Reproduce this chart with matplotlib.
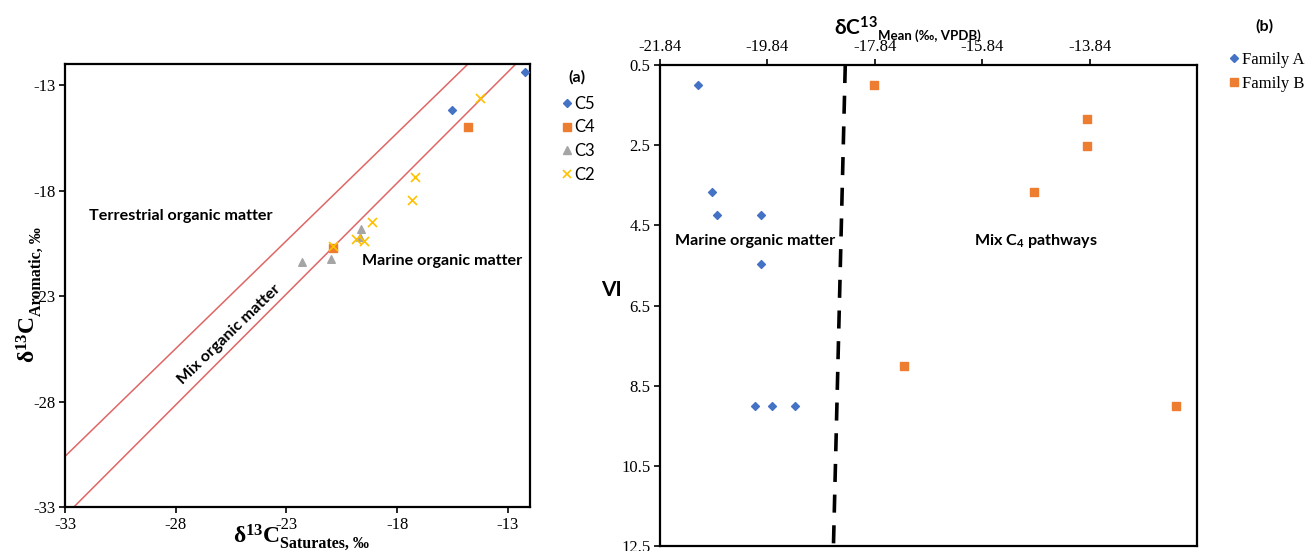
import matplotlib.pyplot as plt
from matplotlib.lines import Line2D
from matplotlib.transforms import IdentityTransform

plt.rcParams['mathtext.fontset'] = 'custom'
plt.rcParams['mathtext.rm'] = 'Liberation Serif'
plt.rcParams['mathtext.bf'] = 'Liberation Serif:bold'
plt.rcParams['mathtext.sf'] = 'Lato:bold'
plt.rcParams['mathtext.fallback'] = 'stixsans'

# ---- panel (a) data: d13C saturates vs d13C aromatics
c5_x = [-12.24, -15.52]
c5_y = [-12.37, -14.20]
c4_x = [-14.81, -20.90]
c4_y = [-14.99, -20.70]
c3_x = [-22.28, -21.00, -19.64, -19.68]
c3_y = [-21.37, -21.25, -19.84, -20.19]
c2_x = [-14.24, -17.21, -17.32, -19.13, -19.87, -19.49, -20.91]
c2_y = [-13.60, -17.37, -18.45, -19.48, -20.30, -20.38, -20.65]

# boundary lines (end points)
upper_x = [-33.0, -14.8]
upper_y = [-30.6, -12.0]
lower_x = [-32.6, -12.64]
lower_y = [-33.0, -12.0]

# ---- panel (b) data: d13C mean vs VI
fam_a_x = [-21.13, -20.87, -20.77, -19.95, -19.96, -20.08, -19.75, -19.32]
fam_a_y = [1.0, 3.66, 4.24, 4.24, 5.47, 9.0, 9.0, 9.0]
fam_b_x = [-17.86, -13.89, -13.89, -14.88, -17.29, -12.23]
fam_b_y = [1.0, 1.85, 2.51, 3.67, 8.0, 9.0]

divider_x = [-18.39, -18.61]
divider_y = [0.5, 12.5]

top_ticks = [-21.84, -19.84, -17.84, -15.84, -13.84]
vi_ticks = [0.5, 2.5, 4.5, 6.5, 8.5, 10.5, 12.5]
sat_ticks = [-33, -28, -23, -18, -13]

BLUE = '#4472C4'
ORANGE = '#ED7D31'
GRAY = '#A5A5A5'
YELLOW = '#FFC000'
RED = '#E06666'

serif = 'Liberation Serif'
sans = 'Lato'
W, H = 1307, 551

fig = plt.figure(figsize=(13.07, 5.51), dpi=100)
renderer = fig.canvas.get_renderer()
px = IdentityTransform()


def sub_label(cx, base, main, sub, main_kw, sub_kw, drop, vertical=False):
    """main text followed by a smaller subscript, centred at cx (pixels from top-left)"""
    rot = 90 if vertical else 0
    t1 = fig.text(0, 0, main, transform=px, va='baseline', ha='left',
                  rotation=rot, rotation_mode='anchor', **main_kw)
    t2 = fig.text(0, 0, sub, transform=px, va='baseline', ha='left',
                  rotation=rot, rotation_mode='anchor', **sub_kw)
    e1 = t1.get_window_extent(renderer)
    e2 = t2.get_window_extent(renderer)
    if not vertical:
        total = e1.width + e2.width
        x0 = cx - total / 2
        t1.set_position((x0, H - base))
        t2.set_position((x0 + e1.width, H - base - drop))
    else:
        # rotated text reads bottom -> top, base is the x of the baseline
        total = e1.height + e2.height
        y0 = (H - cx) - total / 2
        t1.set_position((base, y0))
        t2.set_position((base + drop, y0 + e1.height))
    return t1, t2


# ================= panel (a)
ax1 = fig.add_axes([65 / W, 1 - 507 / H, (530 - 65) / W, (507 - 64) / H])
ax1.plot(upper_x, upper_y, color=RED, lw=1.1)
ax1.plot(lower_x, lower_y, color=RED, lw=1.1)
ax1.scatter(c5_x, c5_y, marker='D', s=16, color=BLUE, zorder=3)
ax1.scatter(c4_x, c4_y, marker='s', s=28, color=ORANGE, zorder=3)
ax1.scatter(c3_x, c3_y, marker='^', s=30, color=GRAY, zorder=3)
ax1.scatter(c2_x, c2_y, marker='x', s=42, color=YELLOW, linewidths=1.2, zorder=4)
ax1.set_xlim(-33, -12)
ax1.set_ylim(-33, -12)
ax1.set_xticks(sat_ticks)
ax1.set_yticks(sat_ticks)
ax1.set_xticklabels([str(t) for t in sat_ticks], fontfamily=serif, fontsize=12)
ax1.set_yticklabels([str(t) for t in sat_ticks], fontfamily=serif, fontsize=12)
ax1.tick_params(direction='out', length=4, width=1.2, pad=3)
for s in ax1.spines.values():
    s.set_linewidth(1.6)

ax1.text(-31.9, -19.2, 'Terrestrial organic matter', fontfamily=sans, fontweight='bold',
         fontsize=11.6, va='center', ha='left')
ax1.text(-19.6, -21.35, 'Marine organic matter', fontfamily=sans, fontweight='bold',
         fontsize=11.6, va='center', ha='left')
ax1.text(-25.6, -24.8, 'Mix organic matter', fontfamily=sans, fontweight='bold',
         fontsize=11.6, va='center', ha='center', rotation=44, rotation_mode='anchor')

serif_main = dict(fontsize=17)
serif_sub = dict(fontfamily=serif, fontweight='bold', fontsize=11.5)
sub_label(301, 543, r'$\mathbf{δ^{13}C}$', 'Saturates, ‰', serif_main, serif_sub, 5)
sub_label(295, 36, r'$\mathbf{δ^{13}C}$', 'Aromatic, ‰', serif_main, serif_sub, 5,
          vertical=True)

fig.text(577 / W, 1 - 77 / H, '(a)', fontfamily=sans, fontweight='bold', fontsize=11.5,
         ha='center', va='center')
h_a = [Line2D([], [], ls='', marker='D', ms=4, color=BLUE),
       Line2D([], [], ls='', marker='s', ms=5.5, color=ORANGE),
       Line2D([], [], ls='', marker='^', ms=6, color=GRAY),
       Line2D([], [], ls='', marker='x', ms=6, mew=1.2, color=YELLOW)]
fig.legend(h_a, ['C5', 'C4', 'C3', 'C2'], loc='upper left',
           bbox_to_anchor=(562 / W, 1 - 96 / H), frameon=False,
           prop={'family': sans, 'size': 12}, handlelength=0.6, handletextpad=0.15,
           labelspacing=0.45, borderpad=0, borderaxespad=0)

# ================= panel (b)
ax2 = fig.add_axes([660 / W, 1 - 546 / H, (1197 - 660) / W, (546 - 65) / H])
ax2.scatter(fam_a_x, fam_a_y, marker='D', s=16, color=BLUE, zorder=3)
ax2.scatter(fam_b_x, fam_b_y, marker='s', s=32, color=ORANGE, zorder=3)
ax2.plot(divider_x, divider_y, color='black', lw=2.6, ls=(0, (5, 3.5)))
ax2.set_xlim(-21.84, -11.84)
ax2.set_ylim(12.5, 0.5)
ax2.xaxis.tick_top()
ax2.set_xticks(top_ticks)
ax2.set_xticklabels(['%.2f' % t for t in top_ticks], fontfamily=serif, fontsize=12)
ax2.set_yticks(vi_ticks)
ax2.set_yticklabels([str(t) for t in vi_ticks], fontfamily=serif, fontsize=12)
ax2.tick_params(direction='out', length=4, width=1.2, pad=3)
for s in ax2.spines.values():
    s.set_linewidth(1.6)

ax2.text(-20.06, 4.9, 'Marine organic matter', fontfamily=sans, fontweight='bold',
         fontsize=11.6, va='center', ha='center')
ax2.text(-14.84, 4.9, 'Mix C$\\mathsf{_4}$ pathways', fontfamily=sans, fontweight='bold',
         fontsize=11.6, va='center', ha='center')

sans_main = dict(fontsize=15)
sans_sub = dict(fontfamily=sans, fontweight='bold', fontsize=9.5)
sub_label(907, 36, r'$\mathsf{δC^{13}}$', 'Mean (‰, VPDB)', sans_main, sans_sub, 4)

fig.text(611 / W, 1 - 290 / H, 'VI', fontfamily=sans, fontweight='bold', fontsize=15,
         ha='center', va='center')
fig.text(1264 / W, 1 - 26 / H, '(b)', fontfamily=sans, fontweight='bold', fontsize=11.5,
         ha='center', va='center')
h_b = [Line2D([], [], ls='', marker='D', ms=4, color=BLUE),
       Line2D([], [], ls='', marker='s', ms=5.5, color=ORANGE)]
fig.legend(h_b, ['Family A', 'Family B'], loc='upper left',
           bbox_to_anchor=(1229 / W, 1 - 52 / H), frameon=False,
           prop={'family': serif, 'size': 12}, handlelength=0.6, handletextpad=0.2,
           labelspacing=0.45, borderpad=0, borderaxespad=0)

fig.savefig('out.png', dpi=100)
